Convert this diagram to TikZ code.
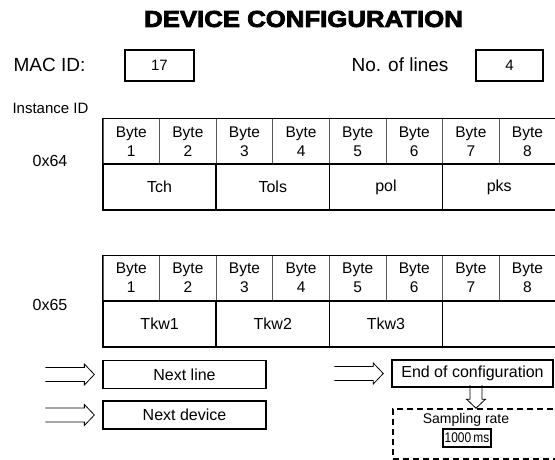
\documentclass[tikz,border=0pt]{standalone}
\usepackage{fontspec}
\setmainfont{Liberation Sans}
\newfontfamily\titlefont[FakeBold=3.5,FakeStretch=1.12]{Liberation Sans Bold}
\newfontfamily\narrowfont[FakeStretch=0.85]{Liberation Sans}
\usetikzlibrary{calc}
\begin{document}
\begin{tikzpicture}[x=1pt,y=-1pt,
  every node/.style={font=\fontsize{16}{16}\selectfont},
  hdr/.style={draw=gray!70!black, line width=0.7pt, minimum width=56.6pt, minimum height=45.5pt, inner sep=0pt, align=center, font=\fontsize{15.5}{19}\selectfont},
  dat/.style={draw=black, line width=1.7pt, minimum width=113.2pt, minimum height=46pt, inner sep=0pt},
  box/.style={draw=black, line width=1.3pt, inner sep=0pt},
  big/.style={font=\fontsize{19}{19}\selectfont},
  small/.style={font=\fontsize{15}{15}\selectfont},
  harrow/.pic={\draw[line width=0.8pt, line join=miter] (-49,-7)--(-10,-7)--(-10,-10.5)--(0,0)--(-10,10.5)--(-10,7)--(-49,7);},
  harrowd/.pic={\draw[line width=0.8pt, line join=miter] (-6,-23)--(-6,-9)--(-9.5,-9)--(0,0)--(9.5,-9)--(6,-9)--(6,-23);}
]
\useasboundingbox (0,0) rectangle (555,459);
\clip (0,0) rectangle (555,459);

\node[font=\titlefont\fontsize{23}{23}\selectfont] (title) at (303.5,19) {DEVICE CONFIGURATION};

\node[big, anchor=west] (mac) at (10,65) {MAC ID:};
\node[box, small, minimum width=69pt, minimum height=31pt] (macv) at (159.5,65.5) {17};
\node[big] (nol) at (400,65) {No. of lines};
\node[box, small, minimum width=67pt, minimum height=31pt] (nolv) at (509.5,65.5) {4};

\node[small, anchor=west] (inst) at (9,108) {Instance ID};
\node (id1) at (50,161) {0x64};
\node (id2) at (50,305) {0x65};

% tables
\foreach \i in {1,...,8} {
  \node[hdr] (a\i) at ({103+56.6*(\i-0.5)},141.5) {Byte\\\i};
  \node[hdr] (b\i) at ({103+56.6*(\i-0.5)},278) {Byte\\\i};
}
\draw[line width=0.8pt] (a1.south west) -- (a1.north west) -- (a8.north east);
\draw[line width=0.8pt] (b1.south west) -- (b1.north west) -- (b8.north east);

\node[dat] (t1) at (159.6,187) {Tch};
\node[dat] (t2) at (272.8,187) {Tols};
\node[dat] (t3) at (386,187) {pol};
\node[dat] (t4) at (499.2,187) {pks};

\node[dat] (u1) at (159.6,324) {Tkw1};
\node[dat] (u2) at (272.8,324) {Tkw2};
\node[dat] (u3) at (386,324) {Tkw3};
\node[dat] (u4) at (499.2,324) {};

% bottom
\node[box, minimum width=163pt, minimum height=28pt] (nl) at (184.5,374.5) {Next line};
\node[box, minimum width=163pt, minimum height=28pt] (nd) at (184.5,415) {Next device};
\node[box, line width=1.5pt, minimum width=161pt, minimum height=27pt] (eoc) at (472.5,373.5) {End of configuration};
\node[draw, line width=1.6pt, dash pattern=on 6pt off 4pt, minimum width=170pt, minimum height=50pt, inner sep=0pt] (sr) at (478,434) {};
\node[font=\fontsize{14}{14}\selectfont] (srl) at (466,420) {Sampling rate};
\node[box, minimum width=48pt, minimum height=18pt, font=\narrowfont\fontsize{14}{14}\selectfont] (ms) at (467,438) {1000\,ms};

\pic at ($(nl.west)+(-8,0)$) {harrow};
\pic at ($(nd.west)+(-8,0)$) {harrow};
\pic at ($(eoc.west)+(-8,0)$) {harrow};
\pic at ($(sr.north)+(-2,0)$) {harrowd};
\end{tikzpicture}
\end{document}
